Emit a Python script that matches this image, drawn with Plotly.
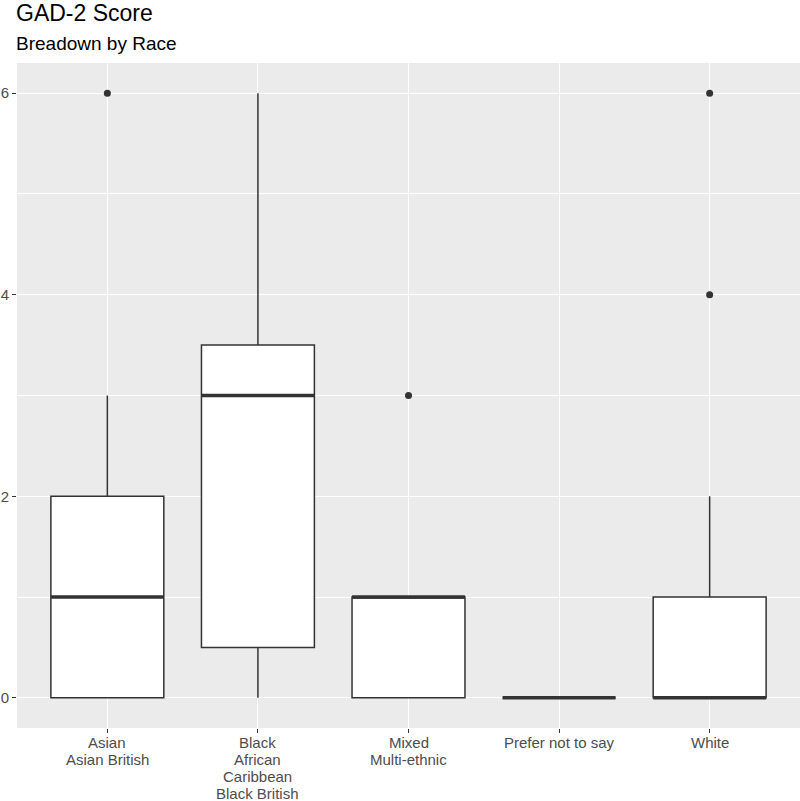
import plotly.graph_objects as go

# ---- data ----
categories = ["Asian\nAsian British", "Black\nAfrican\nCaribbean\nBlack British",
              "Mixed\nMulti-ethnic", "Prefer not to say", "White"]
q1 = [0, 0.5, 0, 0, 0]
median = [1, 3, 1, 0, 0]
q3 = [2, 3.5, 1, 0, 1]
lower_whisker = [0, 0, 0, 0, 0]
upper_whisker = [3, 6, 1, 0, 2]
outlier_cat = [0, 2, 4, 4]
outlier_val = [6, 3, 4, 6]
y_ticks = [0, 2, 4, 6]

title = "GAD-2 Score"
subtitle = "Breadown by Race"

# ---- style ----
FONT = "Liberation Sans, Arial, Helvetica, sans-serif"
DARK = "#333333"
TXT = "#4D4D4D"
BOX_W = 0.75

x_pos = list(range(len(categories)))

fig = go.Figure()
for i in x_pos:
    fig.add_trace(go.Box(
        x=[i], q1=[q1[i]], median=[median[i]], q3=[q3[i]],
        lowerfence=[lower_whisker[i]], upperfence=[upper_whisker[i]],
        width=BOX_W, whiskerwidth=0, fillcolor="white",
        line=dict(color=DARK, width=1.5),
        boxpoints=False, showlegend=False, hoverinfo="skip",
    ))

# thicker median lines (ggplot fatten)
mx, my = [], []
for i in x_pos:
    mx += [i - BOX_W / 2, i + BOX_W / 2, None]
    my += [median[i], median[i], None]
fig.add_trace(go.Scatter(x=mx, y=my, mode="lines",
                         line=dict(color=DARK, width=3.5),
                         showlegend=False, hoverinfo="skip"))

# outliers
fig.add_trace(go.Scatter(x=outlier_cat, y=outlier_val, mode="markers",
                         marker=dict(color=DARK, size=7),
                         showlegend=False, hoverinfo="skip"))

# x tick labels as annotations (ggplot-like line spacing)
annotations = []
for i, lab in enumerate(categories):
    for j, line in enumerate(lab.split("\n")):
        annotations.append(dict(
            x=i, y=0, xref="x", yref="paper", text=line, showarrow=False,
            xanchor="center", yanchor="middle", yshift=-14.5 - 17 * j,
            font=dict(family=FONT, size=15, color=TXT)))

annotations.append(dict(x=0, y=1, xref="paper", yref="paper", text=title,
                        showarrow=False, xanchor="left", yanchor="middle",
                        yshift=50.5, xshift=-3,
                        font=dict(family=FONT, size=23, color="black")))
annotations.append(dict(x=0, y=1, xref="paper", yref="paper", text=subtitle,
                        showarrow=False, xanchor="left", yanchor="middle",
                        yshift=20, xshift=-3,
                        font=dict(family=FONT, size=19, color="black")))

fig.update_layout(
    width=800, height=801,
    margin=dict(l=17, r=0, t=63, b=73, autoexpand=False),
    paper_bgcolor="white", plot_bgcolor="#EBEBEB",
    font=dict(family=FONT, size=15, color=TXT),
    annotations=annotations,
    showlegend=False,
)
fig.update_xaxes(
    range=[-0.6, len(categories) - 0.4], tickvals=x_pos, showticklabels=False,
    showgrid=True, gridcolor="white", gridwidth=1.4, zeroline=False,
    ticks="outside", ticklen=4, tickcolor=DARK, tickwidth=1.2,
    showline=False, automargin=False,
)
fig.update_yaxes(
    range=[-0.3, 6.3], tickvals=y_ticks, showgrid=True, gridcolor="white",
    gridwidth=1.4, zeroline=False, ticks="outside", ticklen=4, tickcolor=DARK,
    tickwidth=1.2, tickfont=dict(family=FONT, size=15, color=TXT),
    minor=dict(dtick=1, tick0=0, showgrid=True, gridcolor="white", gridwidth=0.7, ticks=""),
    showline=False, automargin=False,
)

fig.write_html("out.html", config={"displayModeBar": False},
               post_script="document.body.style.margin='0';document.body.style.overflow='hidden';")
